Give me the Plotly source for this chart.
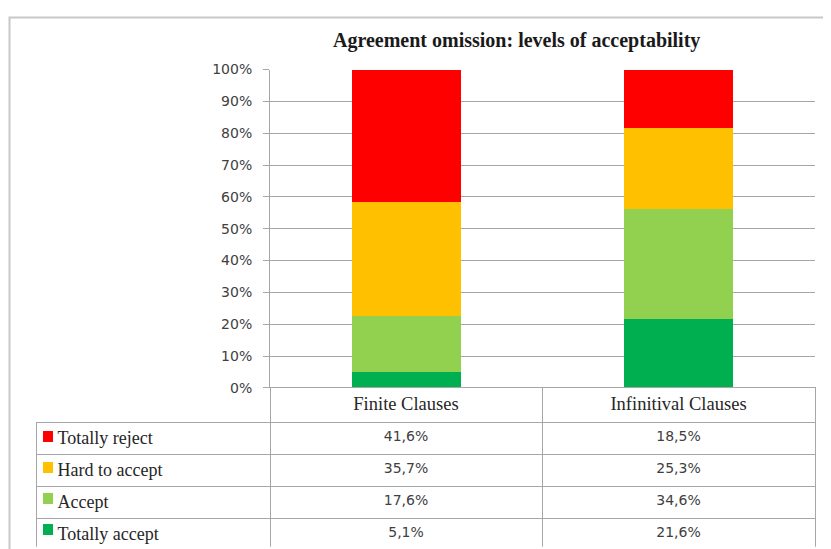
import plotly.graph_objects as go

# ---- data ----
categories = ["Finite Clauses", "Infinitival Clauses"]
levels_bottom_to_top = ["Totally accept", "Accept", "Hard to accept", "Totally reject"]
totally_accept = [5.1, 21.6]
accept = [17.6, 34.6]
hard_to_accept = [35.7, 25.3]
totally_reject = [41.6, 18.5]
colors = {"Totally accept": "#00B050", "Accept": "#92D050",
          "Hard to accept": "#FFC000", "Totally reject": "#FF0000"}
y_ticks = [0, 10, 20, 30, 40, 50, 60, 70, 80, 90, 100]
y_ticktext = [f"{v}%" for v in y_ticks]
title_text = "Agreement omission: levels of acceptability"

series = {"Totally accept": totally_accept, "Accept": accept,
          "Hard to accept": hard_to_accept, "Totally reject": totally_reject}

# mapping of figure pixels to the photographed window
OX = 8
SY, OYS = 0.97, 15.5          # screen_y = OYS + SY * figure_y
W, H = 831 - OX, 550
def px(x):
    return (x - OX) / W
def py(y):
    return 1 - ((y - OYS) / SY) / H

GRID = "#A6A6A6"
fig = go.Figure()
for lvl in levels_bottom_to_top:
    fig.add_trace(go.Bar(x=categories, y=series[lvl], name=lvl,
                         marker=dict(color=colors[lvl], line=dict(width=0)),
                         width=0.4, showlegend=False, hoverinfo="skip"))

def fmt(v):
    return f"{v:.1f}".replace(".", ",") + "%"

table_order = ["Totally reject", "Hard to accept", "Accept", "Totally accept"]
label_col = ["\u00a0\u00a0\u00a0" + l.replace(" ", "\u00a0") for l in table_order]
finite_col = [fmt(series[l][0]) for l in table_order]
inf_col = [fmt(series[l][1]) for l in table_order]

T_TOP, HEAD_S, ROW_S = 387, 34, 31      # in window pixels
fig.add_trace(go.Table(
    domain=dict(x=[px(36), px(815)], y=[max(0, py(T_TOP + HEAD_S + 4 * ROW_S + 1.5)), py(T_TOP)]),
    columnwidth=[234, 272, 273],
    header=dict(values=[""] + categories,
                line=dict(color=["rgba(0,0,0,0)", GRID, GRID], width=1),
                fill=dict(color="rgba(0,0,0,0)"),
                font=dict(family="Liberation Serif", size=18.5, color="#262626"),
                align="center", height=HEAD_S / SY),
    cells=dict(values=[label_col, finite_col, inf_col],
               line=dict(color=GRID, width=1),
               fill=dict(color="white"),
               font=dict(family=["Liberation Serif", "DejaVu Sans", "DejaVu Sans"],
                         size=[18, 14, 14], color=["#262626", "#404040", "#404040"]),
               align=["left", "center", "center"], height=ROW_S / SY),
))

for i, l in enumerate(table_order):
    fig.add_annotation(text=" ", xref="paper", yref="paper",
                       x=px(48), y=py(T_TOP + HEAD_S + ROW_S * i + ROW_S / 2 - 1),
                       xanchor="center", yanchor="middle", showarrow=False,
                       width=10, height=11, bgcolor=colors[l], borderpad=0, borderwidth=0)

fig.update_layout(
    width=W, height=H, margin=dict(l=0, r=0, t=0, b=0),
    paper_bgcolor="white", plot_bgcolor="white",
    barmode="stack",
    xaxis=dict(domain=[px(270), px(815)], range=[-0.5, 1.5], showticklabels=False,
               showgrid=False, zeroline=False, showline=False, fixedrange=True),
    yaxis=dict(domain=[py(387), py(69)], range=[0, 100], tickmode="array",
               tickvals=y_ticks, ticktext=y_ticktext,
               showgrid=True, gridcolor=GRID, gridwidth=1,
               zeroline=False, showline=True, linecolor=GRID, linewidth=1,
               ticks="outside", ticklen=6, tickcolor=GRID, ticklabelstandoff=8,
               tickfont=dict(family="DejaVu Sans", size=14, color="#404040"),
               fixedrange=True),
    font=dict(family="Liberation Serif"),
)

fig.add_annotation(text=f"<b>{title_text}</b>", xref="paper", yref="paper",
                   x=px(516), y=py(40), xanchor="center", yanchor="middle",
                   showarrow=False, font=dict(family="Liberation Serif", size=20, color="#1a1a1a"))

fig.add_shape(type="rect", xref="paper", yref="paper",
              x0=1.5 / W, x1=px(826), y0=-0.05, y1=1 - 1.5 / H,
              line=dict(color="#C8C8C8", width=2), fillcolor="rgba(0,0,0,0)", layer="below")

fig.write_html("out.html")
